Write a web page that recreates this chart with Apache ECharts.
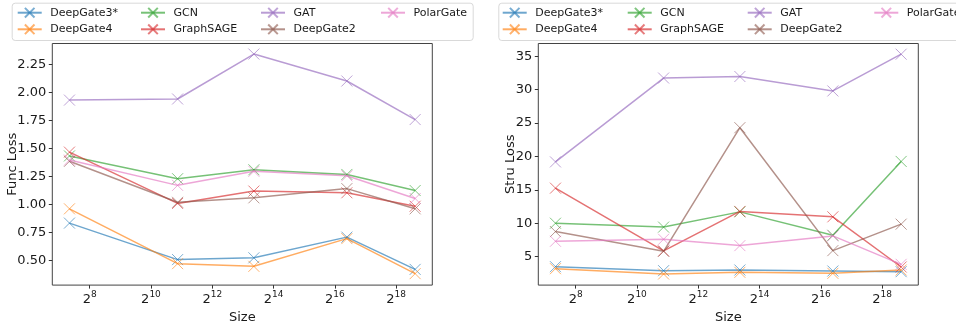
<!DOCTYPE html>
<html><head><meta charset="utf-8">
<script src="https://cdn.jsdelivr.net/npm/echarts@6/dist/echarts.min.js"></script>
<style>html,body{margin:0;padding:0;background:#fff}#c{width:956px;height:329px}</style>
</head><body><div id="c"></div>
<script>
// ---- data ----
const seriesNames = ['DeepGate3*', 'DeepGate4', 'GCN', 'GraphSAGE', 'GAT', 'DeepGate2', 'PolarGate'];
const sizes = [162, 1870, 10500, 86000, 403000];
const xTickValues = [256, 1024, 4096, 16384, 65536, 262144];
const funcTicks = [0.5, 0.75, 1.0, 1.25, 1.5, 1.75, 2.0, 2.25];
const struTicks = [5, 10, 15, 20, 25, 30, 35];

const funcDeepGate3 = [0.835, 0.51, 0.526, 0.71, 0.423];
const funcDeepGate4 = [0.962, 0.474, 0.45, 0.697, 0.385];
const funcGCN       = [1.433, 1.23, 1.31, 1.268, 1.125];
const funcGraphSAGE = [1.467, 1.01, 1.12, 1.105, 0.985];
const funcGAT       = [1.93, 1.94, 2.34, 2.10, 1.757];
const funcDeepGate2 = [1.385, 1.02, 1.06, 1.142, 0.962];
const funcPolarGate = [1.396, 1.171, 1.296, 1.256, 1.054];

const struDeepGate3 = [3.5, 2.9, 3.0, 2.85, 2.75];
const struDeepGate4 = [3.2, 2.4, 2.65, 2.5, 3.0];
const struGCN       = [10.0, 9.42, 11.7, 8.2, 19.25];
const struGraphSAGE = [15.25, 5.85, 11.77, 10.96, 3.45];
const struGAT       = [19.18, 31.73, 31.96, 29.8, 35.3];
const struDeepGate2 = [8.75, 5.8, 24.3, 5.9, 9.86];
const struPolarGate = [7.3, 7.6, 6.65, 8.1, 3.85];

const funcData = [funcDeepGate3, funcDeepGate4, funcGCN, funcGraphSAGE, funcGAT, funcDeepGate2, funcPolarGate];
const struData = [struDeepGate3, struDeepGate4, struGCN, struGraphSAGE, struGAT, struDeepGate2, struPolarGate];

// ---- style ----
const colors = ['#1f77b4', '#ff7f0e', '#2ca02c', '#d62728', '#9467bd', '#8c564b', '#e377c2'];
const FONT = 'DejaVu Sans';
const TXT = '#1a1a1a';
const xSymbol = 'path://M0,0L10,10M10,0L0,10';

const chart = echarts.init(document.getElementById('c'), null, {renderer: 'canvas'});

function xAxisFor(gi) {
  return {
    type: 'log', logBase: 2, gridIndex: gi,
    min: Math.pow(2, 6.78), max: Math.pow(2, 19.18),
    name: 'Size', nameLocation: 'middle', nameGap: 17,
    nameTextStyle: {fontFamily: FONT, fontSize: 13, color: TXT},
    axisLine: {show: false},
    splitLine: {show: false}, minorTick: {show: false}, minorSplitLine: {show: false},
    axisTick: {show: true, length: 3.5, lineStyle: {color: '#333'}, customValues: xTickValues},
    axisLabel: {
      customValues: xTickValues, margin: 5,
      formatter: v => '{b|2}{s|' + Math.round(Math.log2(v)) + '}',
      rich: {
        b: {fontFamily: FONT, fontSize: 13, color: TXT, verticalAlign: 'bottom', lineHeight: 16},
        s: {fontFamily: FONT, fontSize: 9, color: TXT, verticalAlign: 'top', lineHeight: 10, padding: [0, 0, 6, 0]}
      }
    }
  };
}
function yAxisFor(gi, min, max, ticks, name, gap, digits) {
  return {
    type: 'value', gridIndex: gi, min: min, max: max,
    name: name, nameLocation: 'middle', nameGap: gap, nameRotate: 90, nameMoveOverlap: false,
    nameTextStyle: {fontFamily: FONT, fontSize: 13, color: TXT},
    axisLine: {show: false}, splitLine: {show: false},
    axisTick: {show: true, length: 3.5, lineStyle: {color: '#333'}, customValues: ticks},
    axisLabel: {customValues: ticks, margin: 6, fontFamily: FONT, fontSize: 13, color: TXT,
      formatter: v => v.toFixed(digits)}
  };
}

const series = [];
[funcData, struData].forEach((group, gi) => {
  group.forEach((vals, i) => {
    series.push({
      name: seriesNames[i], type: 'line', xAxisIndex: gi, yAxisIndex: gi,
      data: sizes.map((s, k) => [s, vals[k]]),
      symbol: xSymbol, symbolSize: 11, showSymbol: true,
      lineStyle: {color: colors[i], width: 1.5, opacity: 0.65},
      itemStyle: {color: 'rgba(0,0,0,0)', borderColor: colors[i], borderWidth: 1, opacity: 0.6},
      emphasis: {disabled: true}, animation: false, z: 2 + i
    });
  });
});

function legendCol(names, left, top) {
  return {
    data: names.map(n => ({name: n, itemStyle: {color: 'rgba(0,0,0,0)'}})),
    orient: 'vertical', left: left, top: top, padding: 0,
    itemWidth: 24, itemHeight: 12, itemGap: 2.6,
    textStyle: {fontFamily: FONT, fontSize: 11, color: TXT, lineHeight: 14, padding: [0, 0, 0, 3.5]},
    selectedMode: false
  };
}
const colGroups = [['DeepGate3*', 'DeepGate4'], ['GCN', 'GraphSAGE'], ['GAT', 'DeepGate2'], ['PolarGate']];
const leftCols = [16.7, 140, 260, 380];
const rightCols = [501.7, 626.7, 746.7, 873.3];
const legends = [];
colGroups.forEach((g, k) => legends.push(legendCol(g, leftCols[k], 5.7)));
colGroups.forEach((g, k) => legends.push(legendCol(g, rightCols[k], 5.7)));

chart.setOption({
  animation: false,
  backgroundColor: '#fff',
  grid: [
    {left: 52.3, top: 43.5, width: 380, height: 251.8, show: true, borderColor: '#444', borderWidth: 1, backgroundColor: 'transparent'},
    {left: 538.3, top: 43.5, width: 380, height: 251.8, show: true, borderColor: '#444', borderWidth: 1, backgroundColor: 'transparent'}
  ],
  graphic: [
    {type: 'rect', left: 11.7, top: 2.7, shape: {width: 461, height: 37.3, r: 3}, style: {fill: '#fff', stroke: '#d9d9d9', lineWidth: 1}, z: -1},
    {type: 'rect', left: 498.3, top: 2.7, shape: {width: 470, height: 37.3, r: 3}, style: {fill: '#fff', stroke: '#d9d9d9', lineWidth: 1}, z: -1}
  ],
  legend: legends,
  xAxis: [xAxisFor(0), xAxisFor(1)],
  yAxis: [
    yAxisFor(0, 0.283, 2.434, funcTicks, 'Func Loss', 33, 2),
    yAxisFor(1, 0.74, 36.9, struTicks, 'Stru Loss', 21, 0)
  ],
  series: series
});
</script></body></html>
